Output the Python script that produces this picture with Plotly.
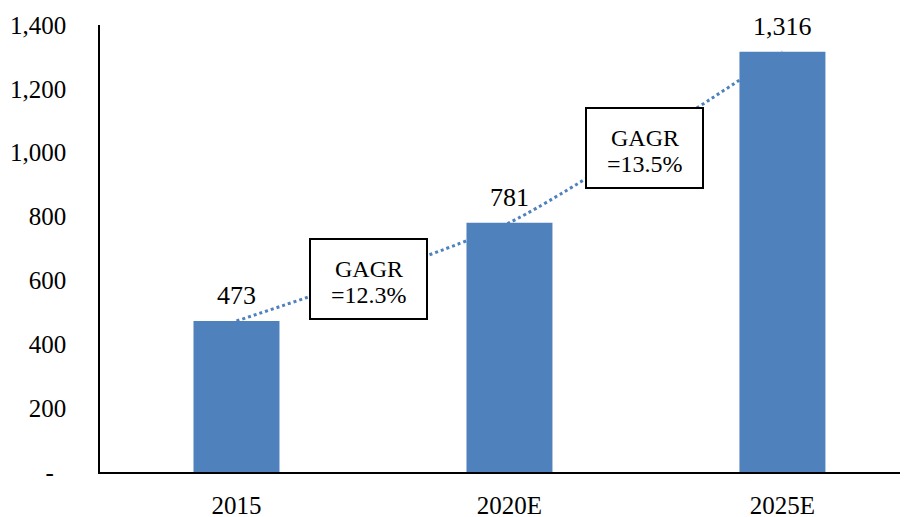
import plotly.graph_objects as go

categories = ["2015", "2020E", "2025E"]
values = [473, 781, 1316]
value_labels = ["473", "781", "1,316"]
cagr_title = ["GAGR", "GAGR"]
cagr_values = ["=12.3%", "=13.5%"]
cagr_pos_x = [0.484, 1.495]
cagr_pos_y = [606, 1015]
y_ticks = [0, 200, 400, 600, 800, 1000, 1200, 1400]
y_ticktext = ["-\u00a0\u00a0", "200", "400", "600", "800", "1,000", "1,200", "1,400"]

BLUE = "#4F81BD"
FONT = "Liberation Serif, Times New Roman, serif"

fig = go.Figure()
fig.add_trace(go.Bar(x=categories, y=values, marker=dict(color=BLUE, line=dict(width=0)),
                     hoverinfo="skip"))
fig.add_trace(go.Scatter(x=categories, y=values, mode="lines",
                         line=dict(color=BLUE, width=3, dash="3px,3px", shape="spline", smoothing=0.6),
                         hoverinfo="skip"))

for i, (v, t) in enumerate(zip(values, value_labels)):
    fig.add_annotation(x=i, y=v, xref="x", yref="y", text=t, showarrow=False,
                       yanchor="bottom", yshift=9,
                       font=dict(family=FONT, size=26, color="black"))

for x, y, t1, t2 in zip(cagr_pos_x, cagr_pos_y, cagr_title, cagr_values):
    fig.add_annotation(x=x, y=y, xref="x", yref="y", text=" ", showarrow=False,
                       width=113, height=76, borderpad=1, borderwidth=2,
                       bordercolor="black", bgcolor="white",
                       font=dict(family=FONT, size=10, color="black"))
    fig.add_annotation(x=x, y=y, xref="x", yref="y", text=t1, showarrow=False,
                       yshift=10, font=dict(family=FONT, size=24, color="black"))
    fig.add_annotation(x=x, y=y, xref="x", yref="y", text=t2, showarrow=False,
                       yshift=-16, font=dict(family=FONT, size=24, color="black"))

fig.update_layout(
    width=900, height=517,
    margin=dict(l=92, r=0, t=17, b=53),
    paper_bgcolor="white", plot_bgcolor="white",
    showlegend=False, bargap=0.685,
    font=dict(family=FONT, size=25, color="black"),
)
fig.update_xaxes(range=[-0.5, 2.46], showline=True, linecolor="black", linewidth=1.5,
                 showgrid=False, ticks="", ticklabelstandoff=10, automargin=False,
                 tickfont=dict(family=FONT, size=25, color="black"))
fig.update_yaxes(range=[0, 1400], showline=True, linecolor="black", linewidth=1.5,
                 showgrid=False, zeroline=False, ticks="", tickvals=y_ticks, ticktext=y_ticktext,
                 ticklabelstandoff=27, automargin=False,
                 tickfont=dict(family=FONT, size=25, color="black"))

fig.write_html("out.html")
